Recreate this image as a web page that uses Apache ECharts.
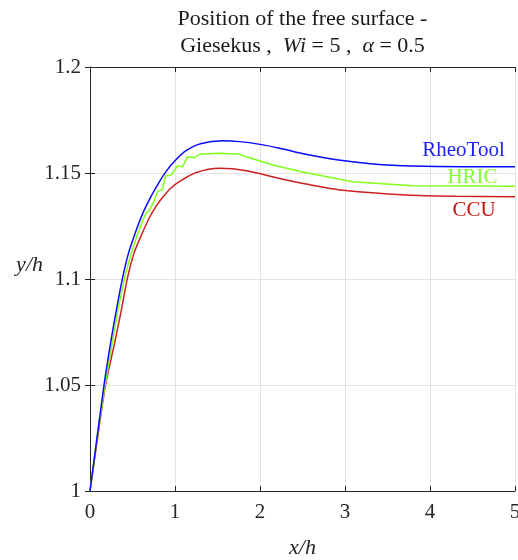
<!DOCTYPE html>
<html>
<head>
<meta charset="utf-8">
<script src="https://cdn.jsdelivr.net/npm/echarts@6/dist/echarts.min.js"></script>
<style>html,body{margin:0;padding:0;background:#fff;overflow:hidden}#c{width:518px;height:560px}</style>
</head>
<body>
<div id="c"></div>
<script>
var xTicks = [0, 1, 2, 3, 4, 5];
var yTicks = ['1', '1.05', '1.1', '1.15', '1.2'];

var rheoX = [0, 0.088, 0.167, 0.241, 0.312, 0.382, 0.453, 0.524, 0.618, 0.712, 0.8, 0.9, 1.0, 1.13, 1.3, 1.56, 1.76, 2.0, 2.23, 2.54, 2.9, 3.33, 3.8, 4.4, 5];
var rheoY = [1, 1.0268, 1.0505, 1.0695, 1.0858, 1.1003, 1.1122, 1.1208, 1.1307, 1.1385, 1.1448, 1.151, 1.1558, 1.1605, 1.1638, 1.1652, 1.1648, 1.1635, 1.1617, 1.1588, 1.1562, 1.1543, 1.1533, 1.153, 1.153];

var hricX = [0, 0.088, 0.18, 0.26, 0.33, 0.405, 0.48, 0.55, 0.62, 0.66, 0.7, 0.755, 0.8, 0.85, 0.89, 0.955, 1.03, 1.09, 1.15, 1.23, 1.29, 1.52, 1.76, 1.84, 2.15, 2.5, 3.09, 3.8, 5];
var hricY = [1, 1.0268, 1.0505, 1.0695, 1.0858, 1.1003, 1.1115, 1.12, 1.1275, 1.131, 1.1325, 1.137, 1.1415, 1.142, 1.1486, 1.149, 1.1533, 1.153, 1.1577, 1.1572, 1.1588, 1.1593, 1.1588, 1.1577, 1.1538, 1.1505, 1.1459, 1.144, 1.1438];

var ccuX = [0, 0.095, 0.185, 0.288, 0.371, 0.44, 0.518, 0.606, 0.7, 0.78, 0.86, 0.95, 1.05, 1.25, 1.52, 1.84, 2.23, 2.54, 3.01, 3.72, 4.3, 5];
var ccuY = [1, 1.0268, 1.0505, 1.0695, 1.0858, 1.1003, 1.1122, 1.1208, 1.129, 1.1345, 1.1388, 1.1428, 1.1459, 1.1502, 1.1522, 1.1511, 1.1474, 1.1448, 1.1417, 1.1396, 1.139, 1.1388];

var labelNames = ['RheoTool', 'HRIC', 'CCU'];
var labelX = [4.394, 4.5, 4.52];
var labelY = [1.1604, 1.1481, 1.1325];

function zip(xs, ys) { return xs.map(function (x, i) { return [x, ys[i]]; }); }

var colors = ['#0a0aff', '#80ff1a', '#cc1f1f'];
var textColors = ['#2020ff', '#80ff33', '#cc1010'];
var serif = '"Liberation Serif", "Times New Roman", serif';

var chart = echarts.init(document.getElementById('c'), null, { renderer: 'canvas' });

var axisLineStyle = { color: '#262626', width: 1 };
var seriesDefs = [[rheoX, rheoY], [hricX, hricY], [ccuX, ccuY]];

var baseGraphics = [{
  type: 'text', x: 302.5, y: 6,
  style: {
    text: 'Position of the free surface -\nGiesekus ,  {i|Wi} = 5 ,  {i|α} = 0.5',
    textAlign: 'center', fill: '#1a1a1a', font: '22px ' + serif, lineHeight: 27,
    rich: { i: { fontStyle: 'italic', fontFamily: serif, fontSize: 22, fill: '#1a1a1a', lineHeight: 27 } }
  }
}, {
  type: 'text', x: 43, y: 265,
  style: {
    text: 'y/h', textAlign: 'right', textVerticalAlign: 'middle',
    fill: '#262626', font: 'italic 22px ' + serif
  }
}];

var option = {
  animation: false,
  backgroundColor: '#ffffff',
  grid: { left: 90, right: 3, top: 67, bottom: 69, containLabel: false, outerBoundsMode: 'none' },
  xAxis: [{
    type: 'value', min: xTicks[0], max: xTicks[xTicks.length - 1], interval: 1, position: 'bottom',
    axisLine: { show: true, lineStyle: axisLineStyle },
    axisTick: { show: true, inside: true, length: 5, lineStyle: axisLineStyle },
    splitLine: { show: true, lineStyle: { color: '#e3e3e3', width: 1 } },
    axisLabel: { color: '#262626', fontFamily: serif, fontSize: 21, margin: 11, hideOverlap: false },
    name: 'x/h', nameLocation: 'middle', nameGap: 46,
    nameTextStyle: { color: '#262626', fontFamily: serif, fontSize: 22, fontStyle: 'italic' }
  }, {
    type: 'value', min: xTicks[0], max: xTicks[xTicks.length - 1], interval: 1, position: 'top',
    axisLine: { show: true, lineStyle: axisLineStyle },
    axisTick: { show: true, inside: true, length: 5, lineStyle: axisLineStyle },
    splitLine: { show: false }, axisLabel: { show: false }
  }],
  yAxis: [{
    type: 'value', min: 1, max: 1.2, interval: 0.05, position: 'left',
    axisLine: { show: true, lineStyle: axisLineStyle },
    axisTick: { show: true, inside: true, length: 5, lineStyle: axisLineStyle },
    splitLine: { show: true, lineStyle: { color: '#e3e3e3', width: 1 } },
    axisLabel: {
      color: '#262626', fontFamily: serif, fontSize: 21, margin: 9,
      formatter: function (v) { return yTicks[Math.round((v - 1) / 0.05)]; }
    }
  }, {
    type: 'value', min: 1, max: 1.2, interval: 0.05, position: 'right',
    axisLine: { show: true, lineStyle: axisLineStyle },
    axisTick: { show: true, inside: true, length: 5, lineStyle: axisLineStyle },
    splitLine: { show: false }, axisLabel: { show: false }
  }],
  graphic: baseGraphics,
  series: seriesDefs.map(function (d, i) {
    return {
      type: 'line', data: zip(d[0], d[1]), showSymbol: false, symbol: 'none',
      smooth: i === 1 ? false : 0.3, clip: true,
      lineStyle: { color: colors[i], width: 1.5 },
      z: 3 - i
    };
  })
};
chart.setOption(option);

var labelGraphics = labelNames.map(function (name, i) {
  var p = chart.convertToPixel({ xAxisIndex: 0, yAxisIndex: 0 }, [labelX[i], labelY[i]]);
  return {
    type: 'text', x: p[0], y: p[1], z: 100,
    style: { text: name, textAlign: 'center', textVerticalAlign: 'middle', fill: textColors[i], font: '21px ' + serif }
  };
});
chart.setOption({ graphic: baseGraphics.concat(labelGraphics) });
</script>
</body>
</html>
